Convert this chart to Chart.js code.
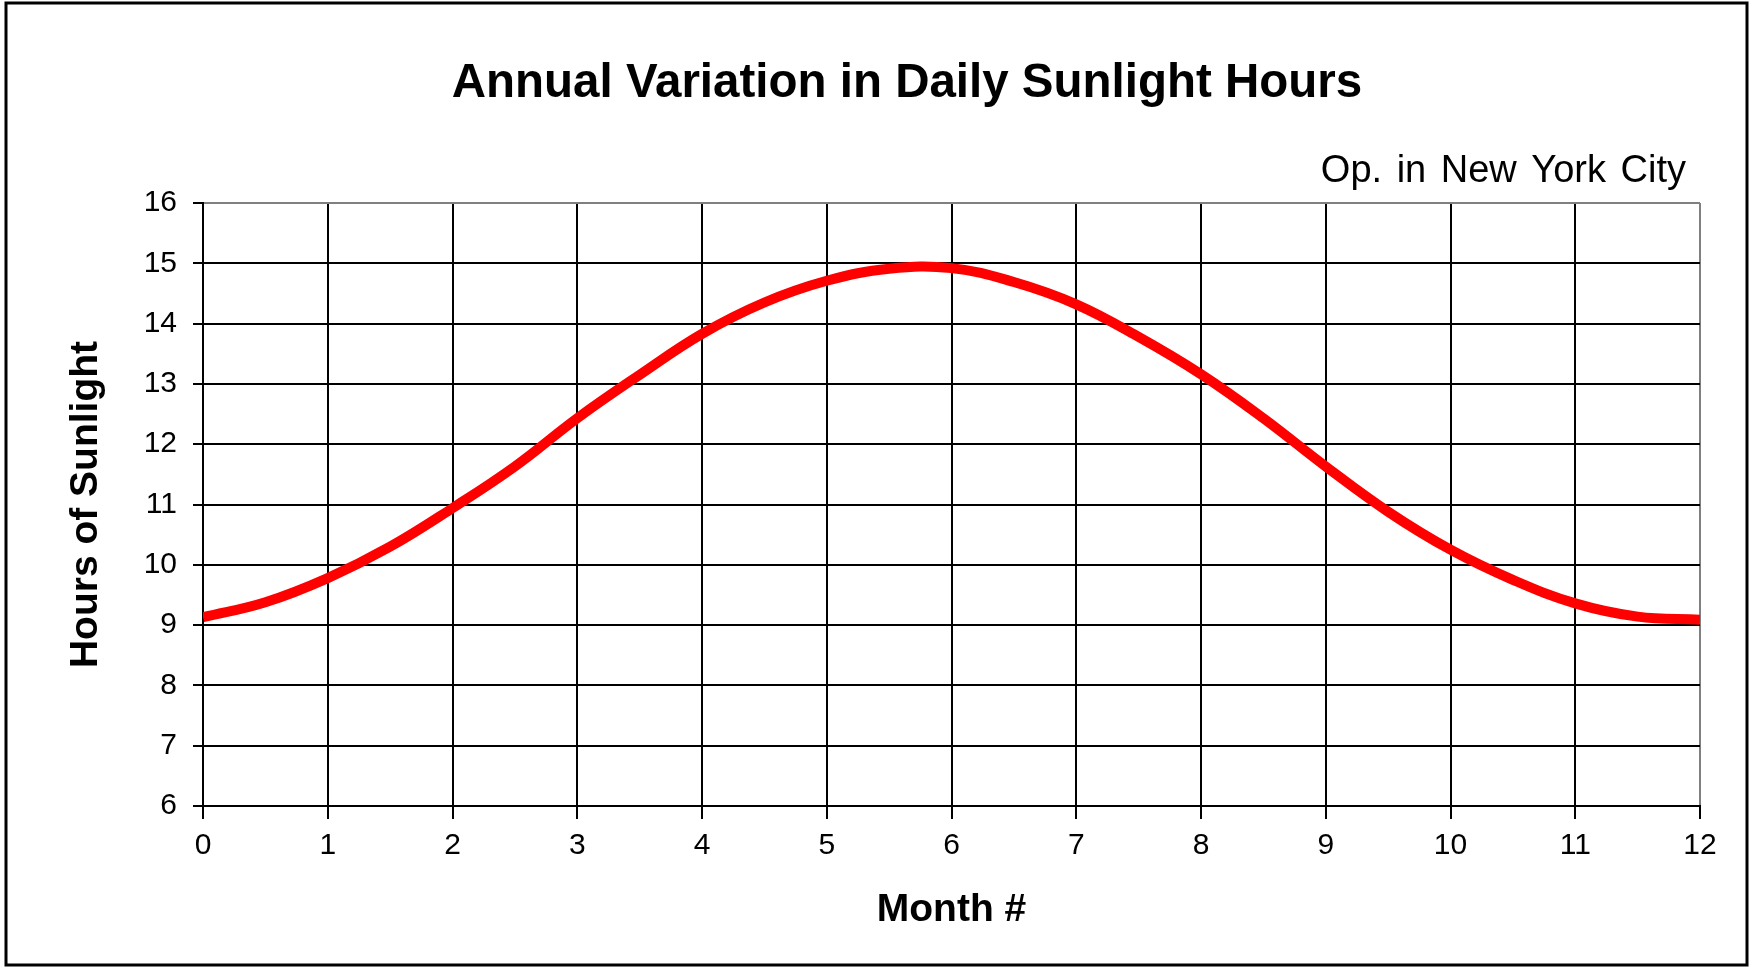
<!DOCTYPE html>
<html>
<head>
<meta charset="utf-8">
<title>Annual Variation in Daily Sunlight Hours</title>
<script src="https://cdn.jsdelivr.net/npm/chart.js@4.4.1/dist/chart.umd.min.js"></script>
<style>
  html, body { margin: 0; padding: 0; background: #ffffff; }
  canvas { display: block; }
</style>
</head>
<body>
<canvas id="sunChart" width="1753" height="967"></canvas>
<script>
// ==========================================
// DATOS (cada medio mes)
// ==========================================
const months = [0, 0.5, 1, 1.5, 2, 2.5, 3, 3.5, 4, 4.5, 5, 5.5, 6,
                6.5, 7, 7.5, 8, 8.5, 9, 9.5, 10, 10.5, 11, 11.5, 12];
const hours = [9.13, 9.38, 9.78, 10.30, 10.94, 11.63, 12.43, 13.15, 13.83, 14.35, 14.71, 14.91, 14.92,
               14.69, 14.32, 13.78, 13.16, 12.43, 11.63, 10.88, 10.25, 9.75, 9.36, 9.14, 9.09];

const monthTicks = [0, 1, 2, 3, 4, 5, 6, 7, 8, 9, 10, 11, 12];
const hourTicks = [6, 7, 8, 9, 10, 11, 12, 13, 14, 15, 16];

const TITLE = 'Annual Variation in Daily Sunlight Hours';
const SUBTITLE = 'Op. in New York City';
const X_TITLE = 'Month #';
const Y_TITLE = 'Hours of Sunlight';

const FONT = "'Liberation Sans', Arial, sans-serif";
const GRAY = '#808080';

// ==========================================
// MARCO Y TÍTULOS
// ==========================================
const frameAndTitles = {
    id: 'frameAndTitles',
    afterDraw(chart) {
        const ctx = chart.ctx;
        ctx.save();
        ctx.strokeStyle = '#000';
        ctx.lineWidth = 3;
        ctx.strokeRect(6, 3, 1741, 962);

        ctx.fillStyle = '#000';
        ctx.textBaseline = 'middle';
        ctx.textAlign = 'center';
        ctx.font = 'bold 47.5px ' + FONT;
        ctx.fillText(TITLE, 907, 84);

        ctx.textAlign = 'right';
        ctx.font = '38px ' + FONT;
        if ('wordSpacing' in ctx) ctx.wordSpacing = '4px';
        ctx.fillText(SUBTITLE, 1686, 172);
        ctx.restore();
    }
};

// ==========================================
// GRÁFICA
// ==========================================
const ctx = document.getElementById('sunChart').getContext('2d');
new Chart(ctx, {
    type: 'line',
    data: {
        datasets: [{
            label: 'Hours of Sunlight',
            data: months.map((m, i) => ({ x: m, y: hours[i] })),
            borderColor: '#ff0000',
            borderWidth: 10,
            tension: 0.4,
            pointRadius: 0,
            fill: false
        }]
    },
    options: {
        responsive: false,
        animation: false,
        layout: { padding: { top: 203, right: 53, bottom: 0, left: 0 } },
        plugins: {
            legend: { display: false },
            tooltip: { enabled: false }
        },
        scales: {
            x: {
                type: 'linear',
                min: monthTicks[0],
                max: monthTicks[monthTicks.length - 1],
                afterBuildTicks: s => { s.ticks = monthTicks.map(v => ({ value: v })); },
                afterFit: s => { s.height = 161; },
                grid: {
                    color: c => (c.tick && c.tick.value === 12) ? GRAY : '#000',
                    tickColor: '#000',
                    lineWidth: 2,
                    tickLength: 13
                },
                border: { color: '#000', width: 2 },
                ticks: {
                    color: '#000',
                    padding: 9,
                    maxRotation: 0,
                    font: { family: FONT, size: 30 }
                },
                title: {
                    display: true,
                    text: X_TITLE,
                    color: '#000',
                    padding: { top: 0, bottom: 33 },
                    font: { family: FONT, size: 39, weight: 'bold' }
                }
            },
            y: {
                min: hourTicks[0],
                max: hourTicks[hourTicks.length - 1],
                afterBuildTicks: s => { s.ticks = hourTicks.map(v => ({ value: v })); },
                afterFit: s => { s.width = 203; },
                grid: {
                    color: c => (c.tick && c.tick.value === 16) ? GRAY : '#000',
                    tickColor: '#000',
                    lineWidth: 2,
                    tickLength: 10
                },
                border: { color: '#000', width: 2 },
                ticks: {
                    color: '#000',
                    padding: 16,
                    font: { family: FONT, size: 30 }
                },
                title: {
                    display: true,
                    text: Y_TITLE,
                    color: '#000',
                    padding: { top: 63, bottom: 0 },
                    font: { family: FONT, size: 39, weight: 'bold' }
                }
            }
        }
    },
    plugins: [frameAndTitles]
});
</script>
</body>
</html>
